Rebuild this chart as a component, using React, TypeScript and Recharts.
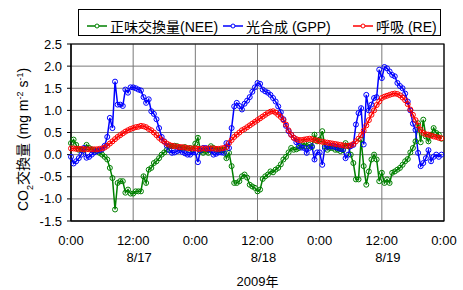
import React from 'react';
import { LineChart, Line, XAxis, YAxis, CartesianGrid, ReferenceArea } from 'recharts';

// time axis: hours since 0:00 8/17/2009, 30-min steps
const hours: number[] = Array.from({ length: 144 }, (_, i) => i * 0.5);

const xTicks = [0, 12, 24, 36, 48, 60, 72];
const xTickLabels = ['0:00', '12:00', '0:00', '12:00', '0:00', '12:00', '0:00'];
const dateLabels = ['', '8/17', '', '8/18', '', '8/19', ''];
const yTicks = [-1.5, -1.0, -0.5, 0, 0.5, 1.0, 1.5, 2.0, 2.5];

const seriesNames = ['正味交換量(NEE)', '光合成 (GPP)', '呼吸 (RE)'];
const xTitle = '2009年';

// 正味交換量 (NEE)
const nee = [
  0.26, 0.34, 0.22, 0.11, 0.11, 0.11, 0.22, 0.15, 0.12, 0.10, 0.08, 0.04,
  0.00, -0.05, -0.11, -0.30, -0.53, -1.24, -0.64, -0.60, -0.60, -0.86, -0.79, -0.88,
  -0.88, -0.83, -0.83, -0.83, -0.49, -0.64, -0.34, -0.30, -0.19, -0.15, -0.08, 0.00,
  0.05, 0.11, 0.19, 0.19, 0.20, 0.19, 0.16, 0.15, 0.17, 0.13, 0.15, 0.12,
  0.25, 0.38, 0.08, 0.04, 0.08, 0.04, 0.19, 0.15, 0.11, 0.11, 0.10, 0.11,
  -0.08, 0.04, -0.26, -0.64, -0.64, -0.60, -0.49, -0.45, -0.52, -0.68, -0.72, -0.75,
  -0.83, -0.79, -0.55, -0.49, -0.45, -0.38, -0.40, -0.34, -0.30, -0.22, -0.11, -0.05,
  0.05, 0.15, 0.11, 0.12, 0.15, 0.19, 0.26, 0.19, 0.22, 0.17, 0.45, 0.30,
  0.34, 0.53, 0.19, 0.11, 0.15, 0.15, 0.11, 0.11, 0.08, 0.10, 0.26, 0.19,
  0.00, -0.19, -0.56, -0.56, 0.34, -0.26, -0.68, -0.38, -0.11, 0.00, -0.11, -0.60,
  -0.41, -0.64, -0.56, -0.64, -0.41, -0.38, -0.34, -0.30, -0.23, -0.15, -0.10, 0.05,
  0.15, 0.30, 0.71, 0.28, 0.79, 0.41, 0.30, 0.45, 0.60, 0.49, 0.45, 0.36,
];

// 光合成 (GPP)
const gpp = [
  -0.05, -0.20, -0.15, -0.08, 0.00, 0.15, -0.07, -0.05, 0.00, 0.05, 0.08, 0.10,
  0.12, 0.20, 0.40, 0.83, 0.60, 1.65, 1.13, 1.13, 1.10, 1.47, 1.40, 1.52,
  1.52, 1.50, 1.47, 1.45, 1.30, 1.17, 1.25, 0.98, 0.92, 0.80, 0.60, 0.40,
  0.30, 0.20, 0.10, 0.04, 0.05, 0.08, 0.10, 0.06, 0.03, 0.00, 0.00, 0.05,
  0.05, -0.17, 0.10, 0.15, 0.15, 0.12, 0.10, 0.00, 0.02, 0.05, 0.05, 0.04,
  0.26, 0.15, 0.60, 1.09, 1.17, 1.10, 1.02, 1.15, 1.22, 1.30, 1.42, 1.52,
  1.62, 1.60, 1.47, 1.43, 1.40, 1.35, 1.28, 1.20, 1.09, 0.96, 0.80, 0.65,
  0.53, 0.45, 0.38, 0.28, 0.20, 0.16, 0.15, 0.04, 0.15, 0.19, -0.11, 0.05,
  0.05, -0.23, 0.15, 0.19, 0.18, 0.19, 0.17, 0.15, 0.13, 0.12, -0.08, 0.00,
  0.19, 0.22, 0.68, 0.94, 1.05, 0.23, 1.35, 1.00, 1.13, 1.28, 1.30, 1.92,
  1.73, 1.98, 1.95, 1.88, 1.80, 1.77, 1.62, 1.55, 1.50, 1.38, 1.20, 1.00,
  0.70, 0.56, 0.04, -0.26, -0.19, -0.08, 0.10, -0.15, -0.05, 0.00, -0.05, 0.00,
];

// 呼吸 (RE)
const re = [
  0.14, 0.14, 0.13, 0.13, 0.13, 0.12, 0.12, 0.12, 0.12, 0.12, 0.12, 0.13,
  0.14, 0.16, 0.20, 0.25, 0.30, 0.35, 0.40, 0.44, 0.48, 0.52, 0.55, 0.58,
  0.60, 0.62, 0.63, 0.65, 0.64, 0.62, 0.58, 0.55, 0.50, 0.44, 0.38, 0.33,
  0.29, 0.25, 0.22, 0.20, 0.19, 0.18, 0.17, 0.17, 0.16, 0.15, 0.14, 0.14,
  0.14, 0.13, 0.13, 0.14, 0.13, 0.14, 0.14, 0.14, 0.13, 0.13, 0.14, 0.15,
  0.17, 0.26, 0.33, 0.40, 0.45, 0.50, 0.55, 0.58, 0.62, 0.66, 0.70, 0.74,
  0.78, 0.82, 0.86, 0.90, 0.94, 0.97, 0.98, 0.95, 0.90, 0.85, 0.78, 0.68,
  0.55, 0.45, 0.38, 0.35, 0.33, 0.33, 0.34, 0.35, 0.36, 0.35, 0.33, 0.32,
  0.30, 0.29, 0.28, 0.27, 0.26, 0.25, 0.24, 0.23, 0.22, 0.21, 0.20, 0.20,
  0.21, 0.24, 0.30, 0.36, 0.44, 0.54, 0.66, 0.78, 0.90, 1.00, 1.12, 1.20,
  1.28, 1.31, 1.33, 1.35, 1.37, 1.38, 1.37, 1.34, 1.29, 1.23, 1.14, 1.02,
  0.90, 0.78, 0.66, 0.56, 0.49, 0.46, 0.45, 0.43, 0.41, 0.40, 0.38, 0.37,
];

const data = hours.map((t, i) => ({ t, nee: nee[i], gpp: gpp[i], re: re[i] }));

const FONT = "'Liberation Sans', Arial, 'Noto Sans CJK JP', sans-serif";
const GREEN = '#008000';
const BLUE = '#0000FF';
const RED = '#FF0000';

const XTick = (props: any) => {
  const { x, y, payload } = props;
  const i = xTicks.indexOf(payload.value);
  return (
    <g>
      <text x={x} y={y + 24} textAnchor="middle" fontSize={13} fill="#000" fontFamily={FONT}>
        {xTickLabels[i]}
      </text>
      {dateLabels[i] ? (
        <text x={x + 6} y={y + 41} textAnchor="middle" fontSize={13} fill="#000" fontFamily={FONT}>
          {dateLabels[i]}
        </text>
      ) : null}
    </g>
  );
};

const LegendItem = ({ left, color, label }: { left: number; color: string; label: string }) => (
  <div style={{ position: 'absolute', left, top: 0, height: 25, display: 'flex', alignItems: 'center' }}>
    <svg width={22} height={10} style={{ display: 'block', marginTop: 6 }}>
      <line x1={1} y1={5} x2={21} y2={5} stroke={color} strokeWidth={1.5} />
      <circle cx={11} cy={5} r={2} stroke={color} strokeWidth={1} fill="#fff" />
    </svg>
    <span style={{ fontSize: 14, marginLeft: 2, marginTop: 6, whiteSpace: 'nowrap', color: '#000' }}>{label}</span>
  </div>
);

export default function App() {
  return (
    <div style={{ position: 'absolute', left: 0, top: 0, width: 463, height: 290, background: '#fff', fontFamily: FONT }}>
      <LineChart width={463} height={290} data={data} margin={{ top: 44, right: 19, bottom: 0, left: 0 }}>
        <CartesianGrid stroke="#7a7a7a" strokeWidth={1} />
        <XAxis
          dataKey="t"
          type="number"
          domain={[0, 72]}
          ticks={xTicks}
          interval={0}
          height={69}
          tickSize={0}
          tickMargin={0}
          tickLine={false}
          axisLine={{ stroke: '#000' }}
          tick={<XTick />}
        />
        <YAxis
          type="number"
          domain={[-1.5, 2.5]}
          ticks={yTicks}
          interval={0}
          width={71}
          tickSize={4}
          tickMargin={5}
          tickLine={{ stroke: '#000' }}
          axisLine={{ stroke: '#000' }}
          tickFormatter={(v: number) => v.toFixed(1)}
          tick={{ fontSize: 13, fill: '#000', fontFamily: FONT }}
        />
        <ReferenceArea x1={0} x2={72} y1={-1.5} y2={2.5} fill="none" stroke="#000" strokeWidth={1.2} />
        <Line dataKey="nee" stroke={GREEN} strokeWidth={1.5} isAnimationActive={false}
          dot={{ r: 2.5, stroke: GREEN, strokeWidth: 1, fill: 'none' }} />
        <Line dataKey="gpp" stroke={BLUE} strokeWidth={1.5} isAnimationActive={false}
          dot={{ r: 2.5, stroke: BLUE, strokeWidth: 1, fill: 'none' }} />
        <Line dataKey="re" stroke={RED} strokeWidth={1.5} isAnimationActive={false}
          dot={{ r: 2.5, stroke: RED, strokeWidth: 1, fill: 'none' }} />
      </LineChart>

      <svg width={463} height={290} style={{ position: 'absolute', left: 0, top: 0, pointerEvents: 'none' }}>
        <text transform="translate(28,139.5) rotate(-90)" textAnchor="middle" fontSize={14} fill="#000" fontFamily={FONT}>
          CO<tspan baselineShift="sub" fontSize={9}>2</tspan>
          <tspan>交換量 (mg m</tspan>
          <tspan baselineShift="super" fontSize={9}>-2</tspan>
          <tspan> s</tspan>
          <tspan baselineShift="super" fontSize={9}>-1</tspan>
          <tspan>)</tspan>
        </text>
        <text x={257.5} y={286} textAnchor="middle" fontSize={13} fill="#000" fontFamily={FONT}>
          {xTitle}
        </text>
      </svg>

      <div style={{ position: 'absolute', left: 78, top: 9, width: 363, height: 27, boxSizing: 'border-box', border: '1px solid #000', background: '#fff' }}>
        <LegendItem left={7} color={GREEN} label={seriesNames[0]} />
        <LegendItem left={143} color={BLUE} label={seriesNames[1]} />
        <LegendItem left={273} color={RED} label={seriesNames[2]} />
      </div>
    </div>
  );
}
